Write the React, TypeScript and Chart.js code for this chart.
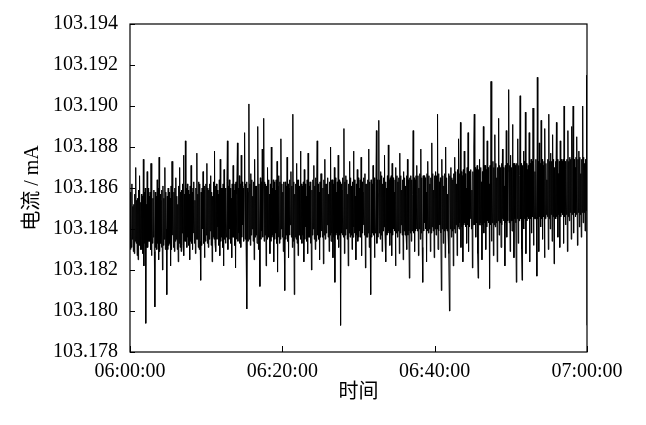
import React, { useEffect, useRef } from "react";
import { Chart, registerables } from "chart.js";

Chart.register(...registerables);

// Current readings, in units of 0.0001 mA above 103.180 mA, sampled evenly from 06:00:00 to 07:00:00
const BASE_MA = 103.18;
const UNIT_MA = 0.0001;
const currentDev: number[] = [
  58,30,55,31,62,35,51,29,52,28,57,34,70,33,54,27,55,25,59,32,66,38,53,30,57,30,56,28,74,22,58,33,60,-6,52,31,68,31,60,34,
  56,34,58,30,72,27,55,33,55,36,59,29,2,58,31,56,30,64,33,60,25,75,29,57,33,54,31,59,20,61,32,55,35,70,30,58,40,8,56,30,
  60,32,58,33,55,22,61,30,73,37,57,31,58,29,60,34,65,35,56,30,52,24,61,33,70,31,58,29,59,38,62,32,76,27,57,34,83,34,60,31,
  62,36,59,32,57,25,61,34,71,33,58,30,60,38,63,33,54,28,60,35,77,35,57,31,63,30,62,34,15,58,32,60,40,68,33,59,26,61,34,62,
  37,72,33,60,31,59,35,62,39,66,32,58,24,56,36,63,35,78,33,61,29,62,35,59,41,57,32,64,27,74,34,60,36,60,31,62,22,69,35,60,
  33,58,36,63,83,30,61,35,64,40,60,33,55,26,62,36,71,36,59,32,62,21,63,35,57,82,34,60,38,66,33,62,31,76,36,63,42,60,34,61,
  87,35,62,36,63,1,60,34,58,101,35,62,32,67,37,64,40,56,34,63,25,74,36,61,37,61,33,64,90,30,62,37,12,65,35,63,39,79,36,60,
  94,34,63,37,62,22,61,35,70,41,64,36,57,28,62,34,80,36,60,37,64,24,63,35,59,38,64,33,73,19,61,36,66,33,63,35,84,40,62,36,
  58,29,63,36,10,63,35,61,37,75,34,62,26,60,37,64,42,68,36,61,31,96,34,63,8,57,36,62,35,72,33,64,27,64,37,61,39,78,35,62,
  33,61,37,63,24,69,35,62,41,56,34,64,28,77,36,61,36,63,33,62,20,59,37,64,40,71,35,61,30,65,34,63,83,37,62,35,58,25,63,36,
  67,39,63,36,60,23,64,37,74,35,62,38,62,42,65,36,57,29,63,37,80,34,64,38,64,26,62,36,70,14,65,37,58,38,63,35,76,31,64,37,
  63,-7,62,38,59,37,65,36,89,28,63,37,66,40,64,35,57,22,62,38,73,36,65,37,61,30,63,36,78,41,64,38,56,25,62,37,69,34,65,36,
  60,39,64,36,75,27,63,38,58,42,65,37,67,21,62,36,62,36,64,38,79,31,63,37,8,64,36,62,38,71,37,65,26,59,38,63,88,33,64,36,
  57,93,38,64,35,68,37,66,29,62,39,65,41,76,38,63,24,60,37,66,38,81,39,64,32,65,38,66,27,72,37,65,40,58,39,64,22,70,38,66,
  36,63,39,65,28,77,38,66,42,59,37,64,25,68,39,65,37,61,38,66,30,74,37,64,39,16,65,38,66,34,64,39,57,88,38,65,29,64,39,66,
  40,71,39,66,27,60,40,67,35,79,38,65,31,14,66,39,66,43,65,40,58,24,67,39,73,38,66,40,62,29,65,38,82,41,67,39,59,26,66,40,
  68,37,66,40,96,30,67,39,63,42,65,38,10,74,40,66,33,61,39,67,26,80,40,65,39,57,38,67,28,0,66,40,70,36,65,39,64,22,67,40,
  75,38,68,42,62,27,69,41,84,40,67,43,92,31,68,41,66,24,69,42,78,43,67,41,60,33,70,42,87,29,68,41,68,45,69,40,59,21,68,42,
  80,96,42,70,36,69,43,71,28,16,69,42,74,42,70,43,63,25,68,42,90,38,71,43,71,30,69,41,83,44,70,43,62,11,71,42,112,34,69,43,
  73,27,70,42,86,41,72,43,65,24,70,44,94,37,71,43,70,31,72,42,79,45,70,44,61,22,71,43,88,36,72,44,68,108,43,71,29,76,44,70,
  39,91,44,72,26,72,45,71,43,14,72,45,84,33,71,44,66,105,45,72,30,15,71,44,78,40,73,45,97,28,72,44,69,46,71,45,87,24,72,45,
  74,38,73,46,99,32,72,45,68,45,74,46,17,114,45,73,29,82,46,72,41,93,45,74,35,71,46,73,26,89,45,72,47,64,46,74,30,96,45,73,
  40,77,47,73,34,86,46,74,23,70,47,73,45,92,46,74,36,67,47,73,31,83,46,74,48,73,47,74,33,100,46,73,42,69,47,74,29,88,46,73,
  44,75,48,74,35,90,47,75,100,38,74,48,70,46,75,47,85,32,74,48,78,41,75,47,67,36,74,48,100,43,75,48,72,39,74,49,115,-7,
];

const startSeconds = 0;
const endSeconds = 3600;
const xTickSeconds = [0, 1200, 2400, 3600];
const xTickLabels = ["06:00:00", "06:20:00", "06:40:00", "07:00:00"];
const yMin = 103.178;
const yMax = 103.194;
const yStep = 0.002;
const yTitle = "电流 / mA";
const xTitle = "时间";

const FONT = "'Liberation Serif', 'Times New Roman', 'Noto Sans CJK SC', serif";

const boxPlugin = {
  id: "boxAndTicks",
  afterDraw(chart: any) {
    const { ctx, chartArea } = chart;
    const { left, right, top, bottom } = chartArea;
    ctx.save();
    ctx.strokeStyle = "#000";
    ctx.lineWidth = 1.2;
    ctx.strokeRect(left, top, right - left, bottom - top);
    ctx.lineWidth = 1;
    const ys = chart.scales.y;
    ys.ticks.forEach((t: any) => {
      const py = Math.round(ys.getPixelForValue(t.value)) + 0.5;
      ctx.beginPath();
      ctx.moveTo(left, py);
      ctx.lineTo(left + 5, py);
      ctx.stroke();
    });
    const xs = chart.scales.x;
    xs.ticks.forEach((t: any) => {
      const px = Math.round(xs.getPixelForValue(t.value)) + 0.5;
      ctx.beginPath();
      ctx.moveTo(px, bottom);
      ctx.lineTo(px, bottom - 6);
      ctx.stroke();
    });
    ctx.restore();
  },
};

export default function App() {
  const ref = useRef<HTMLCanvasElement | null>(null);

  useEffect(() => {
    if (!ref.current) return;
    const n = currentDev.length;
    const points = currentDev.map((d, i) => ({
      x: startSeconds + (i * (endSeconds - startSeconds)) / (n - 1),
      y: BASE_MA + d * UNIT_MA,
    }));
    const chart = new Chart(ref.current, {
      type: "line",
      data: {
        datasets: [
          {
            data: points,
            borderColor: "#000",
            borderWidth: 1,
            pointRadius: 0,
            tension: 0,
            fill: false,
          },
        ],
      },
      options: {
        animation: false,
        responsive: false,
        maintainAspectRatio: false,
        devicePixelRatio: 1,
        parsing: false,
        normalized: true,
        layout: { padding: { left: 0, top: 24, right: 59, bottom: 0 } },
        plugins: { legend: { display: false }, tooltip: { enabled: false } },
        scales: {
          x: {
            type: "linear",
            min: startSeconds,
            max: endSeconds,
            afterBuildTicks: (scale: any) => {
              scale.ticks = xTickSeconds.map((v) => ({ value: v }));
            },
            grid: { display: false, drawTicks: false },
            border: { display: false },
            ticks: {
              color: "#000",
              padding: 8,
              maxRotation: 0,
              autoSkip: false,
              font: { family: FONT, size: 20 },
              callback: (v: any) => {
                const idx = xTickSeconds.indexOf(Number(v));
                return idx >= 0 ? xTickLabels[idx] : "";
              },
            },
            title: {
              display: true,
              text: xTitle,
              color: "#000",
              font: { family: FONT, size: 20 },
              padding: { top: 0, bottom: 20 },
            },
            afterFit: (scale: any) => {
              scale.height = 73;
            },
          },
          y: {
            min: yMin,
            max: yMax,
            grid: { display: false, drawTicks: false },
            border: { display: false },
            ticks: {
              stepSize: yStep,
              color: "#000",
              padding: 12,
              font: { family: FONT, size: 20 },
              callback: (v: any) => Number(v).toFixed(3),
            },
            title: {
              display: true,
              text: yTitle,
              color: "#000",
              font: { family: FONT, size: 20 },
              padding: { top: 21, bottom: 0 },
            },
            afterFit: (scale: any) => {
              scale.width = 130;
            },
          },
        },
      },
      plugins: [boxPlugin],
    });
    return () => chart.destroy();
  }, []);

  return (
    <div style={{ position: "fixed", left: 0, top: 0, width: 646, height: 425, background: "#fff" }}>
      <canvas ref={ref} width={646} height={425} style={{ width: 646, height: 425 }} />
    </div>
  );
}
